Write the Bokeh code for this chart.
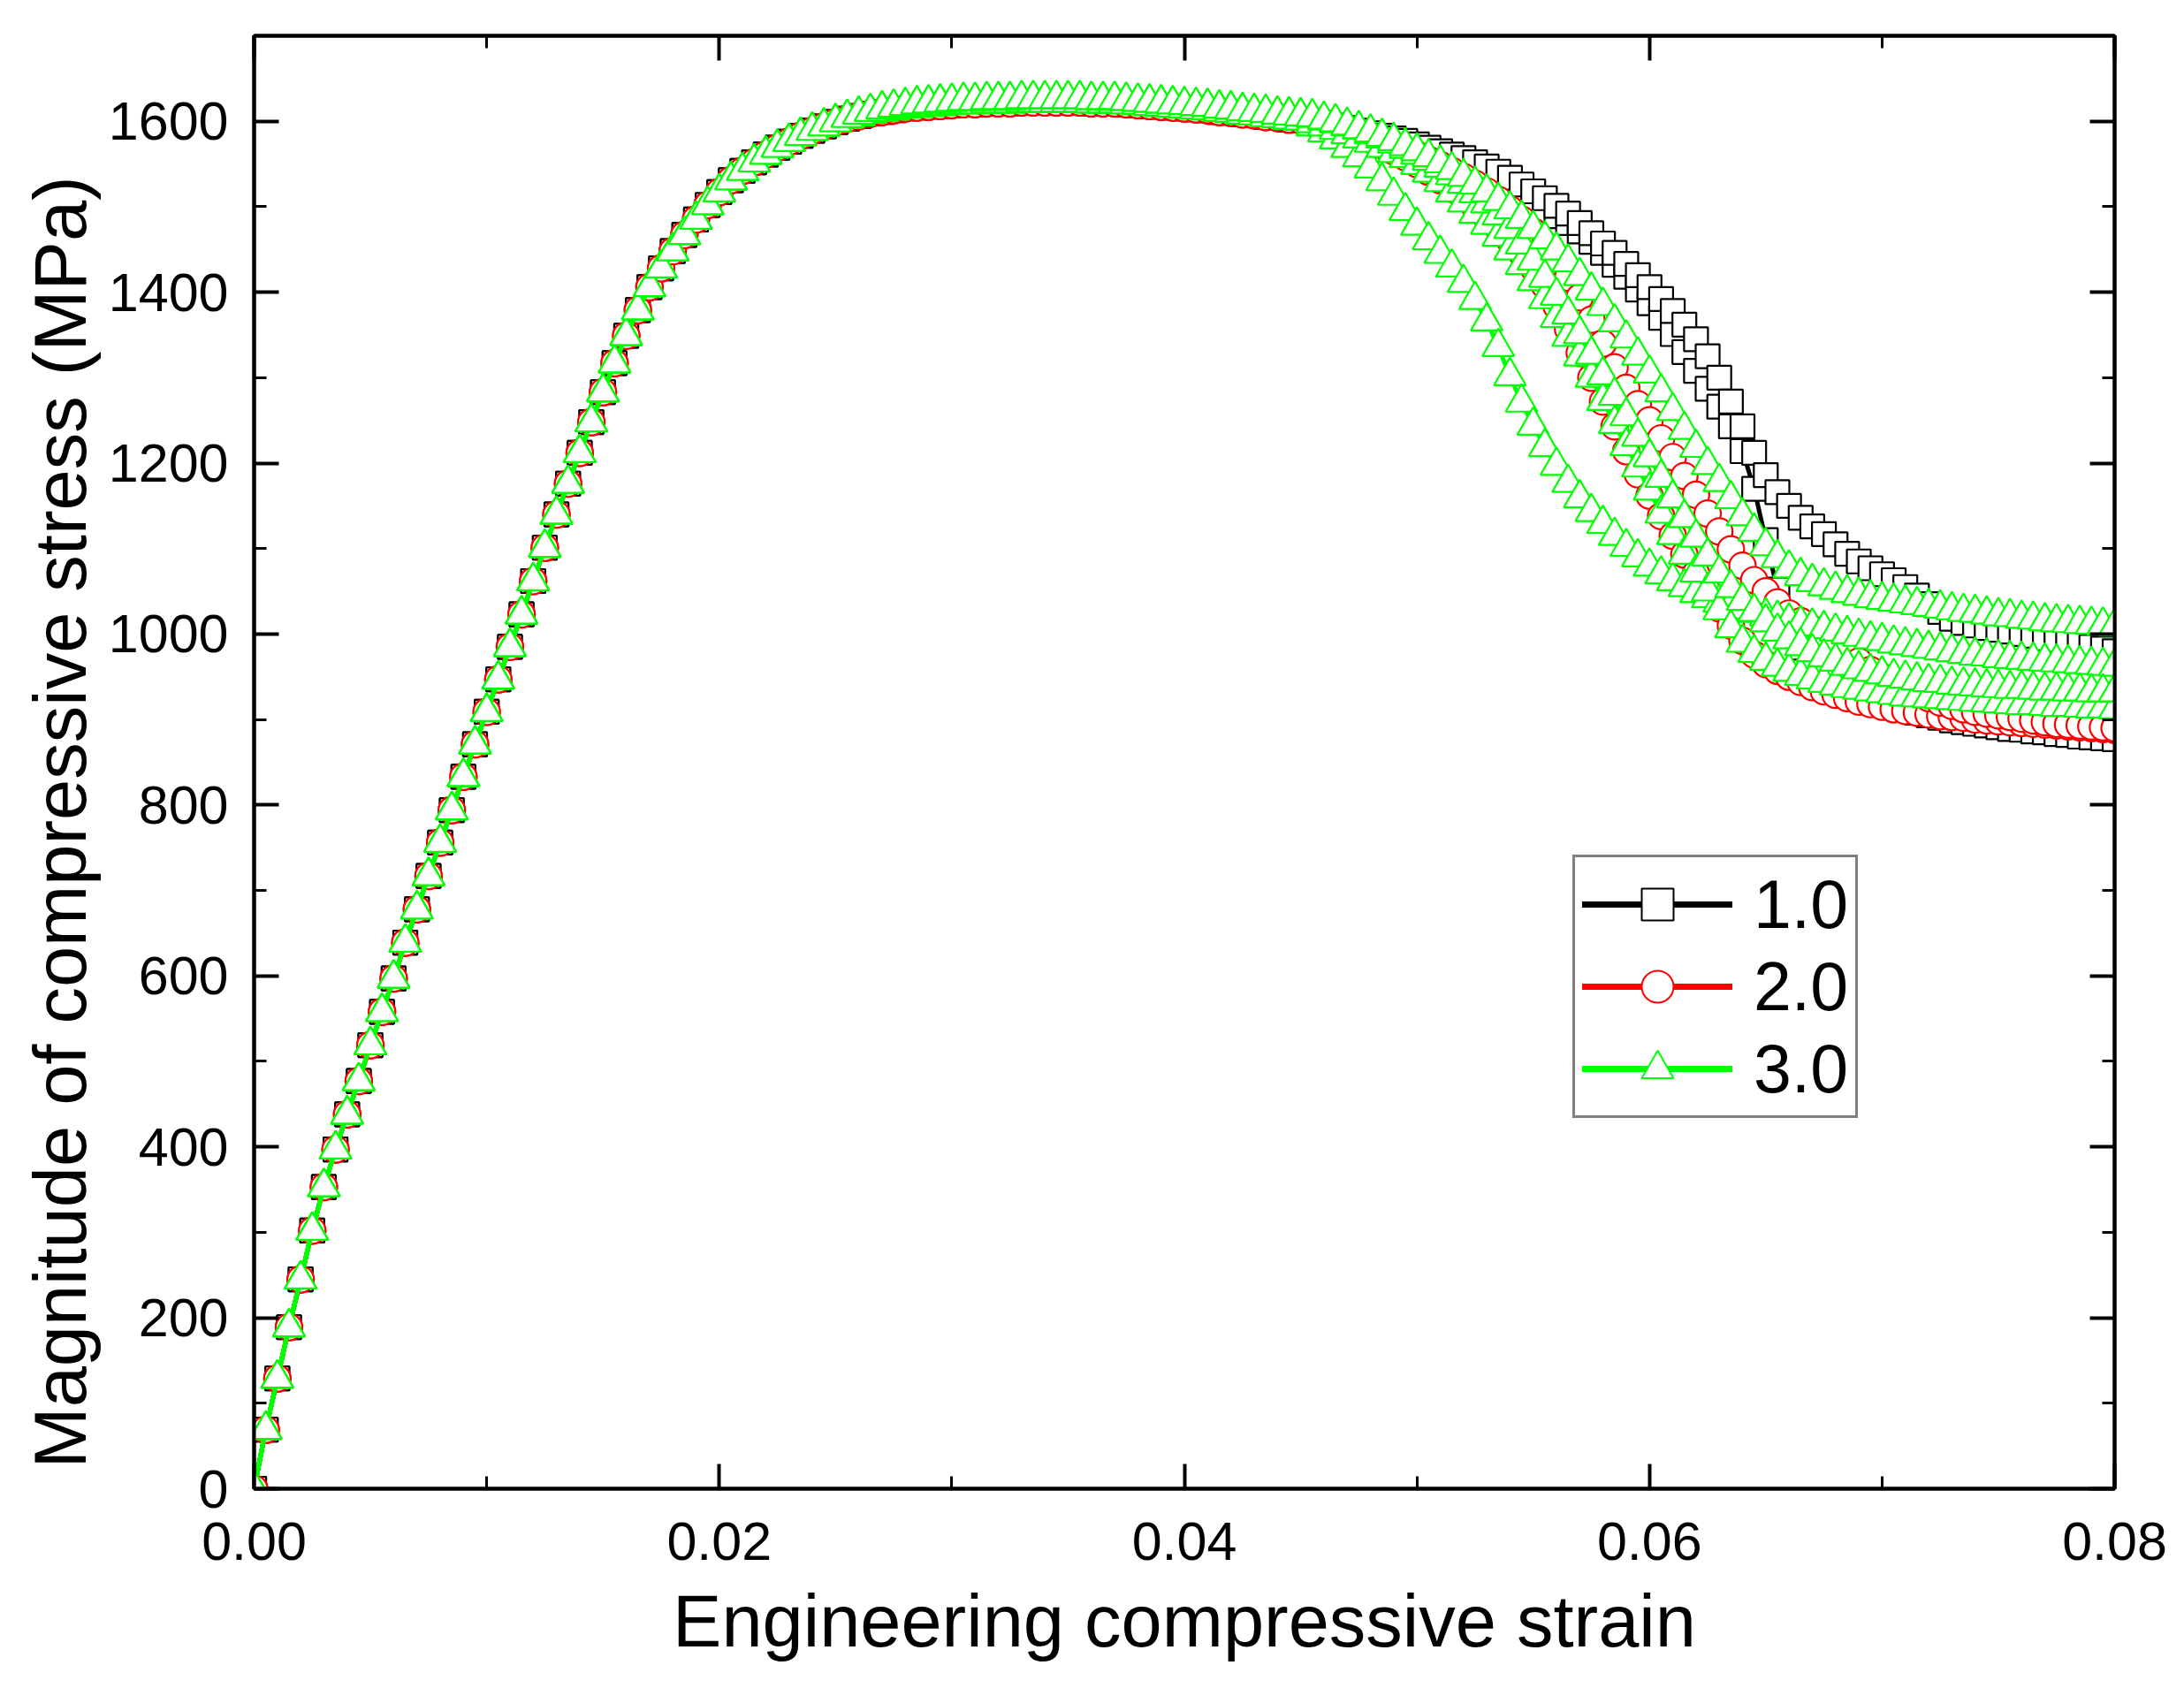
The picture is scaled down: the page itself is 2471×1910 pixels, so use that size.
import numpy as np
from bokeh.plotting import figure
from bokeh.models import (ColumnDataSource, FixedTicker, NumeralTickFormatter, LinearAxis,
                          Legend, LegendItem, Title, CustomJSTickFormatter, Range1d)
from bokeh.embed import file_html
from bokeh.resources import INLINE

# ---------------- data ----------------
STRAIN = [
    0.0000, 0.0005, 0.0010, 0.0015, 0.0020, 0.0025, 0.0030, 0.0035, 0.0040, 0.0045,
    0.0050, 0.0055, 0.0060, 0.0065, 0.0070, 0.0075, 0.0080, 0.0085, 0.0090, 0.0095,
    0.0100, 0.0105, 0.0110, 0.0115, 0.0120, 0.0125, 0.0130, 0.0135, 0.0140, 0.0145,
    0.0150, 0.0155, 0.0160, 0.0165, 0.0170, 0.0175, 0.0180, 0.0185, 0.0190, 0.0195,
    0.0200, 0.0205, 0.0210, 0.0215, 0.0220, 0.0225, 0.0230, 0.0235, 0.0240, 0.0245,
    0.0250, 0.0255, 0.0260, 0.0265, 0.0270, 0.0275, 0.0280, 0.0285, 0.0290, 0.0295,
    0.0300, 0.0305, 0.0310, 0.0315, 0.0320, 0.0325, 0.0330, 0.0335, 0.0340, 0.0345,
    0.0350, 0.0355, 0.0360, 0.0365, 0.0370, 0.0375, 0.0380, 0.0385, 0.0390, 0.0395,
    0.0400, 0.0405, 0.0410, 0.0415, 0.0420, 0.0425, 0.0430, 0.0435, 0.0440, 0.0445,
    0.0450, 0.0455, 0.0460, 0.0465, 0.0470, 0.0475, 0.0480, 0.0485, 0.0490, 0.0495,
    0.0500, 0.0505, 0.0510, 0.0515, 0.0520, 0.0525, 0.0530, 0.0535, 0.0540, 0.0545,
    0.0550, 0.0555, 0.0560, 0.0565, 0.0570, 0.0575, 0.0580, 0.0585, 0.0590, 0.0595,
    0.0600, 0.0605, 0.0610, 0.0615, 0.0620, 0.0625, 0.0630, 0.0635, 0.0640, 0.0645,
    0.0650, 0.0655, 0.0660, 0.0665, 0.0670, 0.0675, 0.0680, 0.0685, 0.0690, 0.0695,
    0.0700, 0.0705, 0.0710, 0.0715, 0.0720, 0.0725, 0.0730, 0.0735, 0.0740, 0.0745,
    0.0750, 0.0755, 0.0760, 0.0765, 0.0770, 0.0775, 0.0780, 0.0785, 0.0790, 0.0795,
    0.0800,
]

# common loading branch, strain 0 .. 0.025 (MPa)
RISE = [
    0, 69, 129, 189, 245, 302, 353, 397, 438, 477,
    519, 558, 597, 639, 678, 717, 756, 794, 833, 871,
    909, 947, 985, 1023, 1062, 1101, 1140, 1176, 1212, 1248,
    1283, 1317, 1349, 1379, 1406, 1428, 1448, 1467, 1485, 1502,
    1517, 1531, 1542, 1552, 1561, 1569, 1576, 1583, 1589, 1594,
    1599,
]

# plateau, strain 0.0255 .. 0.045
PLATEAU_LO = [
    1603, 1606, 1609, 1611, 1613, 1615, 1616, 1617, 1618, 1619,
    1620, 1620, 1621, 1621, 1621, 1622, 1622, 1622, 1622, 1622,
    1622, 1621, 1621, 1621, 1620, 1619, 1618, 1617, 1616, 1615,
    1614, 1613, 1611, 1610, 1608, 1607, 1605, 1604, 1602, 1601,
]
PLATEAU_HI = [
    1604, 1608, 1611, 1614, 1616, 1618, 1620, 1621, 1622, 1623,
    1624, 1624, 1625, 1625, 1625, 1626, 1626, 1626, 1626, 1626,
    1626, 1625, 1625, 1625, 1624, 1623, 1622, 1621, 1620, 1619,
    1618, 1617, 1615, 1614, 1612, 1611, 1610, 1608, 1607, 1606,
]

# softening branches, strain 0.0455 .. 0.080
TAIL_1A = [
    1600, 1598, 1595, 1592, 1589, 1586, 1583, 1580, 1577, 1573,
    1569, 1565, 1561, 1557, 1552, 1547, 1541, 1534, 1526, 1518,
    1510, 1501, 1492, 1481, 1469, 1457, 1446, 1433, 1420, 1406,
    1392, 1378, 1362, 1345, 1325, 1300, 1272, 1243, 1212, 1186,
    1166, 1150, 1136, 1126, 1117, 1105, 1094, 1085, 1077, 1070,
    1063, 1055, 1045, 1035, 1026, 1018, 1013, 1010, 1007, 1005,
    1003, 1000, 998, 995, 993, 990, 988, 985, 983, 980,
]
TAIL_1B = [
    1600, 1597, 1594, 1590, 1587, 1583, 1579, 1575, 1571, 1567,
    1562, 1557, 1551, 1545, 1539, 1532, 1525, 1518, 1510, 1503,
    1496, 1489, 1481, 1471, 1459, 1446, 1432, 1418, 1403, 1387,
    1370, 1351, 1330, 1308, 1287, 1266, 1243, 1214, 1170, 1110,
    1052, 1008, 984, 968, 956, 947, 939, 932, 926, 921,
    916, 912, 908, 905, 902, 899, 897, 895, 893, 891,
    889, 888, 886, 885, 883, 882, 880, 879, 878, 877,
]
TAIL_2A = [
    1600, 1597, 1593, 1589, 1585, 1581, 1576, 1571, 1566, 1561,
    1555, 1549, 1542, 1535, 1527, 1518, 1508, 1497, 1485, 1471,
    1455, 1437, 1417, 1394, 1368, 1340, 1312, 1288, 1269, 1250,
    1229, 1207, 1185, 1163, 1141, 1120, 1099, 1080, 1063, 1050,
    1037, 1024, 1015, 1006, 998, 990, 979, 968, 958, 950,
    943, 937, 931, 925, 920, 916, 912, 909, 907, 905,
    903, 901, 899, 897, 895, 894, 893, 892, 891, 890,
]
TAIL_2B = [
    1599, 1596, 1592, 1588, 1583, 1578, 1572, 1565, 1558, 1550,
    1541, 1531, 1521, 1511, 1500, 1488, 1475, 1461, 1446, 1429,
    1408, 1384, 1357, 1329, 1300, 1272, 1243, 1214, 1187, 1162,
    1138, 1115, 1093, 1071, 1050, 1030, 1010, 992, 976, 965,
    957, 950, 944, 938, 933, 929, 925, 921, 918, 915,
    912, 910, 908, 906, 904, 903, 902, 900, 899, 898,
    897, 896, 895, 894, 893, 892, 891, 890, 889, 888,
]
TAIL_3A = [
    1594, 1587, 1579, 1569, 1558, 1545, 1530, 1513, 1495, 1478,
    1461, 1445, 1429, 1411, 1391, 1366, 1336, 1302, 1271, 1244,
    1219, 1197, 1177, 1159, 1143, 1129, 1115, 1102, 1090, 1079,
    1070, 1062, 1055, 1048, 1042, 1037, 1033, 1029, 1025, 1021,
    1018, 1015, 1012, 1009, 1006, 1003, 1000, 997, 994, 992,
    989, 987, 985, 983, 981, 979, 977, 975, 974, 972,
    971, 970, 969, 968, 967, 966, 965, 964, 963, 962,
]
TAIL_3B = [
    1598, 1594, 1590, 1585, 1580, 1575, 1569, 1563, 1557, 1549,
    1540, 1529, 1517, 1505, 1492, 1479, 1465, 1449, 1432, 1413,
    1392, 1370, 1348, 1325, 1300, 1273, 1246, 1220, 1195, 1168,
    1141, 1116, 1093, 1072, 1050, 1028, 1007, 990, 978, 969,
    962, 956, 951, 947, 943, 940, 937, 935, 933, 931,
    929, 927, 926, 925, 924, 923, 922, 921, 920, 919,
    918, 917, 917, 916, 915, 915, 914, 913, 913, 912,
]
TAIL_3C = [
    1604, 1601, 1598, 1594, 1590, 1585, 1580, 1574, 1568, 1561,
    1554, 1546, 1537, 1527, 1516, 1504, 1490, 1474, 1456, 1437,
    1417, 1396, 1374, 1351, 1327, 1303, 1279, 1255, 1231, 1207,
    1183, 1159, 1136, 1113, 1091, 1071, 1054, 1039, 1026, 1014,
    1003, 994, 986, 979, 973, 968, 963, 959, 956, 953,
    950, 948, 946, 944, 943, 941, 940, 939, 938, 937,
    936, 936, 935, 934, 934, 933, 933, 932, 932, 932,
]
TAIL_3D = [
    1605, 1602, 1599, 1595, 1591, 1587, 1582, 1577, 1571, 1565,
    1558, 1551, 1543, 1535, 1526, 1517, 1507, 1497, 1486, 1474,
    1462, 1449, 1435, 1419, 1402, 1384, 1365, 1346, 1326, 1305,
    1283, 1261, 1239, 1218, 1198, 1178, 1158, 1138, 1120, 1103,
    1089, 1077, 1068, 1061, 1056, 1052, 1048, 1045, 1042, 1040,
    1038, 1036, 1034, 1032, 1030, 1028, 1026, 1025, 1023, 1021,
    1020, 1018, 1017, 1015, 1014, 1013, 1012, 1011, 1010, 1009,
]

LABELS = ["1.0", "2.0", "3.0"]
COLORS = ["#000000", "#FF0000", "#00FF00"]
MARKERS = ["square", "circle", "triangle"]
MARKER_SIZES = [27, 30, 36]
CURVES = [
    [RISE + PLATEAU_LO + TAIL_1B, RISE + PLATEAU_LO + TAIL_1A],
    [RISE + PLATEAU_LO + TAIL_2B, RISE + PLATEAU_LO + TAIL_2A],
    [RISE + PLATEAU_LO + TAIL_3A, RISE + PLATEAU_LO + TAIL_3B,
     RISE + PLATEAU_HI + TAIL_3C, RISE + PLATEAU_HI + TAIL_3D],
]

X_MAJOR = [0.0, 0.02, 0.04, 0.06, 0.08]
X_MINOR = [0.01, 0.03, 0.05, 0.07]
Y_MAJOR = [0, 200, 400, 600, 800, 1000, 1200, 1400, 1600]
Y_MINOR = [100, 300, 500, 700, 900, 1100, 1300, 1500, 1700]

FONT = "Liberation Sans"

# ---------------- figure ----------------
p = figure(width=2455, height=1894,
           x_range=Range1d(0, 0.08), y_range=Range1d(0, 1700),
           output_backend="svg", toolbar_location=None,
           min_border_left=287, min_border_right=63,
           min_border_top=40, min_border_bottom=210)
p.xgrid.grid_line_color = None
p.ygrid.grid_line_color = None
p.outline_line_color = "black"
p.outline_line_width = 4
p.background_fill_color = "white"
p.border_fill_color = "white"


def style_axis(ax, labels=True):
    ax.axis_line_width = 4
    ax.axis_line_color = "black"
    ax.major_tick_in = 28
    ax.major_tick_out = 0
    ax.minor_tick_in = 14
    ax.minor_tick_out = 0
    ax.major_tick_line_width = 4
    ax.minor_tick_line_width = 3
    ax.major_tick_line_color = "black"
    ax.minor_tick_line_color = "black"
    ax.major_label_text_font = FONT
    ax.major_label_text_color = "black"
    if labels:
        ax.major_label_text_font_size = "61px"
    else:
        ax.major_label_text_font_size = "0px"
        ax.major_label_standoff = 0


xa = p.xaxis[0]
xa.ticker = FixedTicker(ticks=X_MAJOR, minor_ticks=X_MINOR)
xa.formatter = NumeralTickFormatter(format="0.00")
style_axis(xa)
xa.major_label_standoff = 38
xa.axis_label = "Engineering compressive strain"
xa.axis_label_text_font = FONT
xa.axis_label_text_font_size = "83px"
xa.axis_label_text_font_style = "normal"
xa.axis_label_text_color = "black"
xa.axis_label_standoff = 20

ya = p.yaxis[0]
ya.ticker = FixedTicker(ticks=Y_MAJOR, minor_ticks=Y_MINOR)
ya.formatter = NumeralTickFormatter(format="0")
style_axis(ya)
ya.major_label_standoff = 29

top = LinearAxis(ticker=FixedTicker(ticks=X_MAJOR, minor_ticks=X_MINOR),
                 formatter=CustomJSTickFormatter(code="return ''"))
style_axis(top, labels=False)
p.add_layout(top, "above")

right = LinearAxis(ticker=FixedTicker(ticks=Y_MAJOR, minor_ticks=Y_MINOR),
                   formatter=CustomJSTickFormatter(code="return ''"))
style_axis(right, labels=False)
p.add_layout(right, "right")

# y title as a side title (sits a little below the frame centre, as in the original)
ytitle = Title(text="Magnitude of compressive stress (MPa)", align="left", offset=23,
               text_font=FONT, text_font_size="83px", text_font_style="normal",
               text_color="black", standoff=10)
p.add_layout(ytitle, "left")

# ---------------- curves ----------------
for color, marker, msize, curves in zip(COLORS, MARKERS, MARKER_SIZES, CURVES):
    for y in curves:
        src = ColumnDataSource(data=dict(x=STRAIN[:len(y)], y=y))
        p.line("x", "y", source=src, line_color=color, line_width=5)
        p.scatter("x", "y", source=src, marker=marker, size=msize,
                  fill_color="white", line_color=color, line_width=2.2)

# legend-only renderers (thick lines as in the original key); a single NaN point, nothing drawn
items = []
for lab, color, marker in zip(LABELS, COLORS, MARKERS):
    es = ColumnDataSource(data=dict(x=np.array([np.nan]), y=np.array([np.nan])))
    lr = p.line("x", "y", source=es, line_color=color, line_width=7, line_cap="round")
    sr = p.scatter("x", "y", source=es, marker=marker, size=30,
                   fill_color="white", line_color=color, line_width=2)
    items.append(LegendItem(label=lab, renderers=[lr, sr]))

legend = Legend(items=items, location=(1492, 419),
                glyph_width=170, glyph_height=90, label_height=90,
                spacing=3, padding=8, label_standoff=24, margin=0,
                label_text_font=FONT, label_text_font_size="77px",
                label_text_color="black",
                border_line_color="black", border_line_width=3,
                background_fill_color="white", background_fill_alpha=1.0)
p.add_layout(legend)

open("out.html", "w").write(file_html(p, INLINE))
